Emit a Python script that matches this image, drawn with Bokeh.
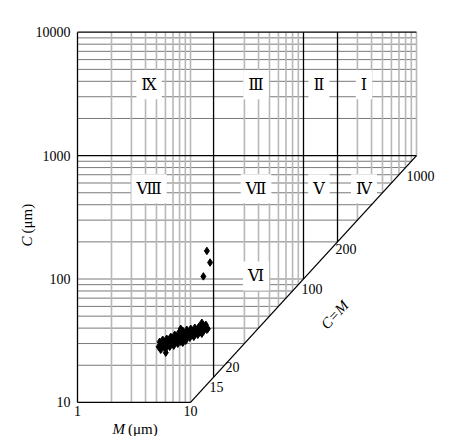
import math
from bokeh.plotting import figure
from bokeh.core.properties import value
from bokeh.embed import file_html
from bokeh.resources import INLINE

# ---- sample data (M = median grain size, C = one-percentile grain size, in micrometres)
m_um = [5.23, 5.34, 5.45, 5.56, 5.68, 5.80, 5.92, 6.04, 6.04, 6.16, 6.29, 6.42, 6.55, 6.69,
        6.83, 6.97, 7.11, 7.26, 7.40, 7.56, 7.72, 7.88, 8.04, 8.20, 8.20, 8.37, 8.54, 8.54,
        8.72, 8.90, 9.08, 9.27, 9.46, 9.66, 9.86, 10.06, 10.27, 10.48, 10.70, 10.92, 11.14,
        11.37, 11.61, 11.85, 12.09, 12.34, 12.60, 12.60, 12.86, 13.12, 13.40, 13.67, 13.95,
        14.24, 13.96, 14.9, 13.0]
c_um = [28.2, 31.0, 26.7, 29.3, 32.2, 28.2, 30.4, 25.3, 27.2, 32.8, 29.3, 31.6, 28.2, 34.0,
        30.4, 32.8, 28.8, 35.3, 31.6, 34.0, 29.9, 36.7, 32.8, 39.5, 31.0, 34.7, 30.4, 38.1,
        33.4, 36.0, 31.6, 38.8, 34.7, 37.4, 33.4, 39.5, 36.0, 38.1, 34.0, 40.3, 36.7,
        38.8, 35.3, 41.0, 37.4, 39.5, 44.2, 36.0, 41.8, 38.1, 40.3, 42.6, 38.8,
        39.5, 169, 136, 105]

# ---- zones of the CM diagram
zone_names = ["\u2168", "\u2162", "\u2161", "\u2160", "\u2167", "\u2166", "\u2164", "\u2163", "\u2165"]
zone_m = [4.3, 38, 137, 343, 4.3, 38, 137, 343, 38]
zone_c = [3750, 3750, 3750, 3750, 540, 540, 540, 540, 106]

# ---- diagram frame and boundaries
m_min, m_max = 1, 1000
c_min, c_max = 10, 10000
c_boundary = 1000
m_boundaries = [16, 100, 200]
diag_ticks = [15, 20, 100, 200, 1000]
c_grid = [20, 30, 40, 50, 60, 70, 80, 90, 100, 200, 300, 400, 500, 600, 700, 800, 900,
          2000, 3000, 4000, 5000, 6000, 7000, 8000, 9000]
m_grid = [2, 3, 4, 5, 6, 7, 8, 9, 10, 30, 40, 50, 60, 70, 80, 90,
          300, 400, 500, 600, 700, 800, 900, 1000]
y_ticks = [10, 100, 1000, 10000]
x_ticks = [1, 10]

SERIF = "Liberation Serif"

# view window (log scales, the whole canvas is the frame)
x_view = (10 ** -0.6814, 10 ** 3.354)
y_view = (10 ** 0.7237, 10 ** 4.2571)

p = figure(width=456, height=436, x_axis_type="log", y_axis_type="log",
           x_range=x_view, y_range=y_view, x_axis_location=None, y_axis_location=None,
           output_backend="svg", toolbar_location=None, min_border=0)
p.outline_line_color = None
p.grid.visible = False

# horizontal grey lines: end on the C=M line below C=1000, at M=1000 above
hx0 = [m_min for c in c_grid]
hx1 = [min(c, m_max) for c in c_grid]
p.segment(x0=hx0, y0=c_grid, x1=hx1, y1=c_grid, line_color="#7a7a7a", line_width=1)

# vertical grey lines: start on the C=M line (or C=10) and run to the top
vy0 = [max(m, c_min) for m in m_grid]
vy1 = [c_max for m in m_grid]
p.segment(x0=m_grid, y0=vy0, x1=m_grid, y1=vy1, line_color="#b8b8b8", line_width=1.6)

# zone numerals with white boxes (drawn below the black boundaries)
p.text(x=zone_m, y=zone_c, text=zone_names, text_align="center", text_baseline="middle",
       text_font=value("DejaVu Serif"), text_font_size="16px", text_color="black",
       background_fill_color="white", padding=5)

# black frame / boundaries
bx0 = [m_min, m_min, m_min, m_min, c_min] + m_boundaries
by0 = [c_min, c_max, c_boundary, c_min, c_min] + m_boundaries
bx1 = [m_min, m_max, m_max, c_min, m_max] + m_boundaries
by1 = [c_max, c_max, c_boundary, c_min, m_max] + [c_max for m in m_boundaries]
p.segment(x0=bx0, y0=by0, x1=bx1, y1=by1, line_color="black", line_width=1.3)

# data points
p.scatter(x=m_um, y=c_um, marker="diamond", size=7.5, fill_color="black", line_color="black")

# ticks along the C=M line
diag_dx = [-1, 1, -2, -2, -10]
diag_dy = [1, -3, 5, 2, 15]
p.text(x=diag_ticks, y=diag_ticks, text=[str(v) for v in diag_ticks],
       x_offset=diag_dx, y_offset=diag_dy, text_align="left", text_baseline="top",
       text_font=value(SERIF), text_font_size="14px", text_color="black")

# C=M label along the diagonal
ang = math.atan2(123.4, 113.0)
p.text(x=[188.6], y=[51.3], text=["C=M"], angle=ang, text_align="center",
       text_baseline="middle", text_font=value(SERIF), text_font_size="15px",
       text_font_style="italic", text_color="black")

# axis tick labels
p.text(x=[m_min] * len(y_ticks), y=y_ticks, text=[str(v) for v in y_ticks], x_offset=-7,
       text_align="right", text_baseline="middle",
       text_font=value(SERIF), text_font_size="14px", text_color="black")
p.text(x=x_ticks, y=[c_min] * len(x_ticks), text=[str(v) for v in x_ticks], y_offset=4,
       text_align="center", text_baseline="top",
       text_font=value(SERIF), text_font_size="14px", text_color="black")

# axis titles
p.text(x=[0.361], y=[221], text=["C"], angle=math.pi / 2, text_align="right",
       text_baseline="middle", text_font=value(SERIF), text_font_size="15px",
       text_font_style="italic", text_color="black")
p.text(x=[0.361], y=[221], text=["\u2009(\u03bcm)"], angle=math.pi / 2, text_align="left",
       text_baseline="middle", text_font=value(SERIF), text_font_size="15px", text_color="black")
p.text(x=[2.63], y=[6.14], text=["M"], text_align="right",
       text_baseline="middle", text_font=value(SERIF), text_font_size="15px",
       text_font_style="italic", text_color="black")
p.text(x=[2.63], y=[6.14], text=["\u2009(\u03bcm)"], text_align="left",
       text_baseline="middle", text_font=value(SERIF), text_font_size="15px", text_color="black")

open("out.html", "w").write(file_html(p, INLINE))
